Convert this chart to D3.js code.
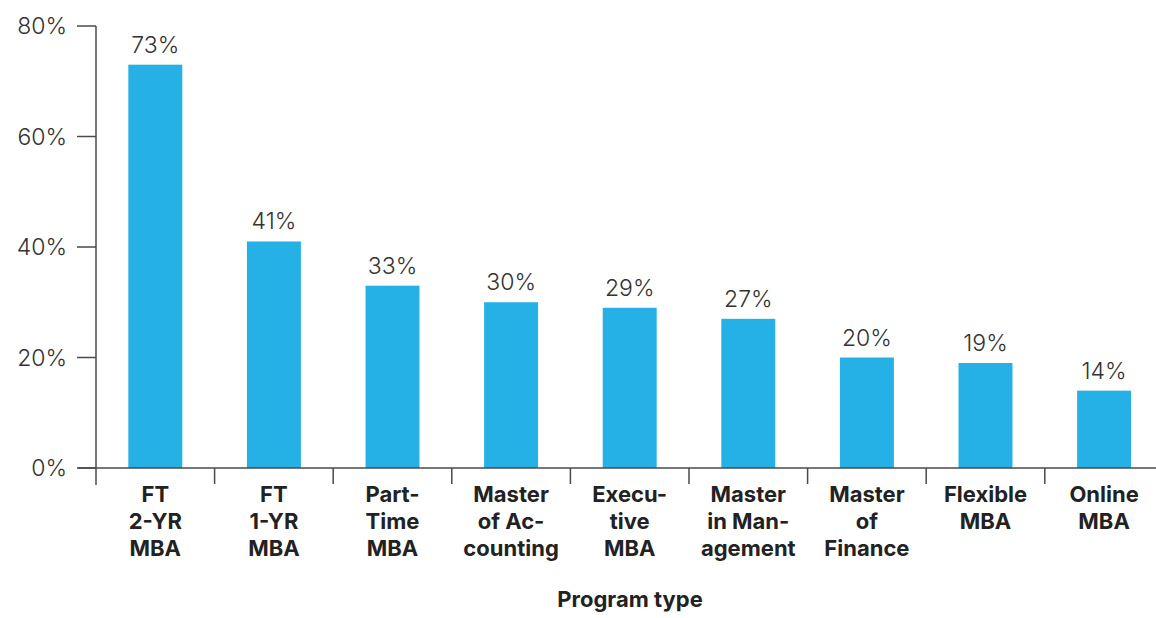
<!DOCTYPE html>
<html>
<head>
<meta charset="utf-8">
<script src="https://cdn.jsdelivr.net/npm/d3@7"></script>
<style>
  body { margin: 0; background: #fff; }
  svg { display: block; }
</style>
</head>
<body>
<script>
// values
const programs = [
  ["FT", "2-YR", "MBA"],
  ["FT", "1-YR", "MBA"],
  ["Part-", "Time", "MBA"],
  ["Master", "of Ac-", "counting"],
  ["Execu-", "tive", "MBA"],
  ["Master", "in Man-", "agement"],
  ["Master", "of", "Finance"],
  ["Flexible", "MBA"],
  ["Online", "MBA"]
];
const shares = [73, 41, 33, 30, 29, 27, 20, 19, 14];
const yTicks = [0, 20, 40, 60, 80];

const width = 1156;
const height = 618;
const margin = {top: 26, left: 96, bottom: 150};
const font = "Inter, 'Noto Sans', sans-serif";
const axisColor = "#4a4a4a";

const svg = d3.select("body").append("svg")
  .attr("width", width)
  .attr("height", height);

const x = d3.scaleBand()
  .domain(d3.range(shares.length))
  .range([margin.left, margin.left + 118.6 * shares.length])
  .paddingInner(0.545)
  .paddingOuter(0.2725);

const y = d3.scaleLinear()
  .domain([0, 80])
  .range([height - margin.bottom, margin.top]);

const y0 = y(0);

// y axis
svg.append("line")
  .attr("x1", margin.left).attr("x2", margin.left)
  .attr("y1", y(80)).attr("y2", y0 + 17)
  .attr("stroke", axisColor).attr("stroke-width", 1.5);

svg.selectAll(".ytick")
  .data(yTicks)
  .join("line")
  .attr("x1", margin.left - 19).attr("x2", margin.left)
  .attr("y1", d => y(d)).attr("y2", d => y(d))
  .attr("stroke", axisColor).attr("stroke-width", 1.5);

svg.selectAll(".ylabel")
  .data(yTicks)
  .join("text")
  .attr("x", margin.left - 29)
  .attr("y", d => y(d) + 8)
  .attr("text-anchor", "end")
  .attr("font-family", font)
  .attr("font-weight", 300)
  .attr("font-size", 23)
  .attr("fill", "#333")
  .text(d => d + "%");

// bars
svg.selectAll("rect")
  .data(shares)
  .join("rect")
  .attr("x", (d, i) => x(i))
  .attr("width", x.bandwidth())
  .attr("y", d => y(d))
  .attr("height", d => y0 - y(d))
  .attr("fill", "#25b0e6");

svg.selectAll(".value")
  .data(shares)
  .join("text")
  .attr("x", (d, i) => x(i) + x.bandwidth() / 2)
  .attr("y", d => y(d) - 12)
  .attr("text-anchor", "middle")
  .attr("font-family", font)
  .attr("font-weight", 300)
  .attr("font-size", 23)
  .attr("fill", "#333")
  .text(d => d + "%");

// x axis
svg.append("line")
  .attr("x1", margin.left - 18).attr("x2", width)
  .attr("y1", y0).attr("y2", y0)
  .attr("stroke", axisColor).attr("stroke-width", 1.5);

const step = x.step();
svg.selectAll(".xtick")
  .data(d3.range(1, shares.length))
  .join("line")
  .attr("x1", i => x(i) - step * x.paddingInner() / 2)
  .attr("x2", i => x(i) - step * x.paddingInner() / 2)
  .attr("y1", y0).attr("y2", y0 + 16)
  .attr("stroke", axisColor).attr("stroke-width", 1.5);

const labels = svg.selectAll(".xlabel")
  .data(programs)
  .join("text")
  .attr("x", (d, i) => x(i) + x.bandwidth() / 2)
  .attr("y", y0 + 34)
  .attr("text-anchor", "middle")
  .attr("font-family", font)
  .attr("font-weight", 700)
  .attr("font-size", 22)
  .attr("fill", "#222");

labels.selectAll("tspan")
  .data((d, i) => d.map(t => ({t, cx: x(i) + x.bandwidth() / 2})))
  .join("tspan")
  .attr("x", d => d.cx)
  .attr("dy", (d, j) => j === 0 ? 0 : 27)
  .text(d => d.t);

svg.append("text")
  .attr("x", 630)
  .attr("y", 607)
  .attr("text-anchor", "middle")
  .attr("font-family", font)
  .attr("font-weight", 700)
  .attr("font-size", 22)
  .attr("fill", "#222")
  .text("Program type");
</script>
</body>
</html>
